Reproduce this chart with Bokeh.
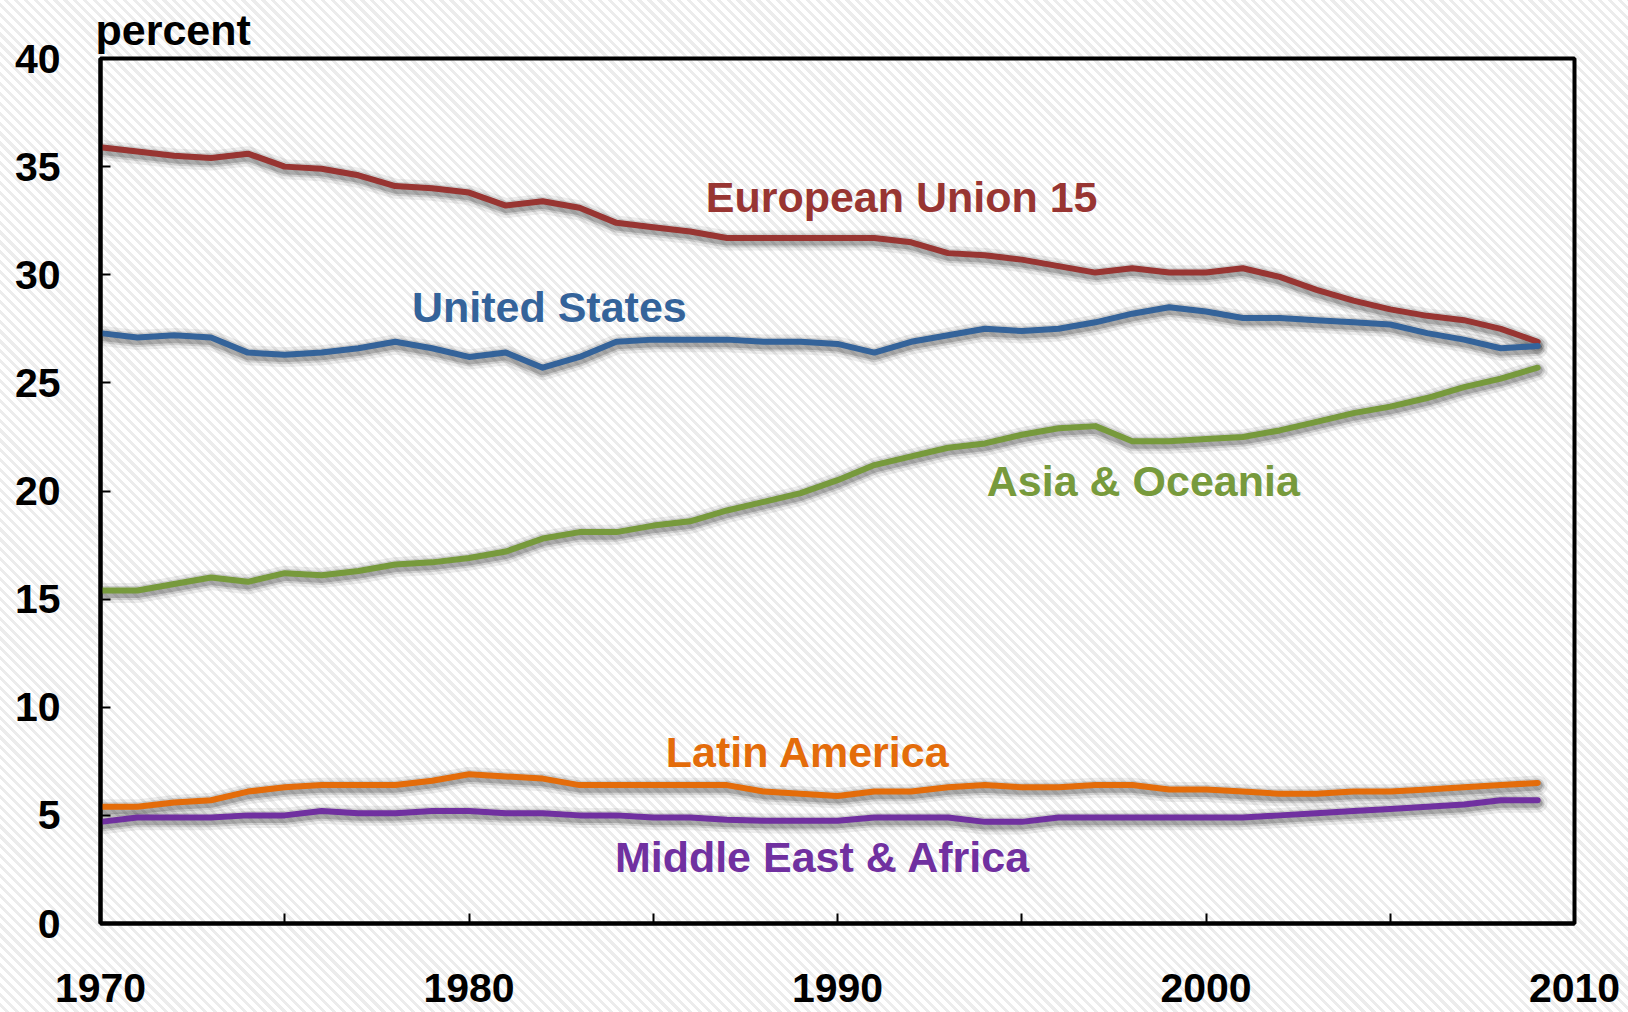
from bokeh.plotting import figure
from bokeh.models import Range1d, FixedTicker, Label
from bokeh.embed import file_html
from bokeh.resources import INLINE

years = list(range(1970, 2010))

eu15 = [35.9, 35.7, 35.5, 35.4, 35.6, 35.0, 34.9, 34.6, 34.1, 34.0,
        33.8, 33.2, 33.4, 33.1, 32.4, 32.2, 32.0, 31.7, 31.7, 31.7,
        31.7, 31.7, 31.5, 31.0, 30.9, 30.7, 30.4, 30.1, 30.3, 30.1,
        30.1, 30.3, 29.9, 29.3, 28.8, 28.4, 28.1, 27.9, 27.5, 26.9]
usa = [27.3, 27.1, 27.2, 27.1, 26.4, 26.3, 26.4, 26.6, 26.9, 26.6,
       26.2, 26.4, 25.7, 26.2, 26.9, 27.0, 27.0, 27.0, 26.9, 26.9,
       26.8, 26.4, 26.9, 27.2, 27.5, 27.4, 27.5, 27.8, 28.2, 28.5,
       28.3, 28.0, 28.0, 27.9, 27.8, 27.7, 27.3, 27.0, 26.6, 26.7]
asia = [15.4, 15.4, 15.7, 16.0, 15.8, 16.2, 16.1, 16.3, 16.6, 16.7,
        16.9, 17.2, 17.8, 18.1, 18.1, 18.4, 18.6, 19.1, 19.5, 19.9,
        20.5, 21.2, 21.6, 22.0, 22.2, 22.6, 22.9, 23.0, 22.3, 22.3,
        22.4, 22.5, 22.8, 23.2, 23.6, 23.9, 24.3, 24.8, 25.2, 25.7]
latam = [5.4, 5.4, 5.6, 5.7, 6.1, 6.3, 6.4, 6.4, 6.4, 6.6,
         6.9, 6.8, 6.7, 6.4, 6.4, 6.4, 6.4, 6.4, 6.1, 6.0,
         5.9, 6.1, 6.1, 6.3, 6.4, 6.3, 6.3, 6.4, 6.4, 6.2,
         6.2, 6.1, 6.0, 6.0, 6.1, 6.1, 6.2, 6.3, 6.4, 6.5]
mea = [4.7, 4.9, 4.9, 4.9, 5.0, 5.0, 5.2, 5.1, 5.1, 5.2,
       5.2, 5.1, 5.1, 5.0, 5.0, 4.9, 4.9, 4.8, 4.75, 4.75,
       4.75, 4.9, 4.9, 4.9, 4.7, 4.7, 4.9, 4.9, 4.9, 4.9,
       4.9, 4.9, 5.0, 5.1, 5.2, 5.3, 5.4, 5.5, 5.7, 5.7]

series_names = ["European Union 15", "United States", "Asia & Oceania",
                "Latin America", "Middle East & Africa"]
series_values = [eu15, usa, asia, latam, mea]
series_colors = ["#983532", "#34639a", "#779a3c", "#e46c0a", "#7030a0"]
# label anchor points (data coordinates: year, percent)
label_x = [1991.74, 1982.18, 1998.30, 1989.2, 1989.6]
label_y = [33.61, 28.52, 20.48, 7.91, 3.09]

x_ticks = [1970, 1975, 1980, 1985, 1990, 1995, 2000, 2005, 2010]
x_tick_labels = ["1970", "", "1980", "", "1990", "", "2000", "", "2010"]
y_ticks = [0, 5, 10, 15, 20, 25, 30, 35, 40]

FONT = "Liberation Sans"

p = figure(width=1628, height=1012, output_backend="svg", toolbar_location=None,
           x_range=Range1d(1970, 2010), y_range=Range1d(0, 40),
           min_border_left=100, min_border_right=54, min_border_top=58,
           min_border_bottom=89, background_fill_color=None,
           border_fill_color=None, title="percent")
p.styles = {"background": "repeating-linear-gradient(45deg, #ffffff 0px, #ffffff 4px, #ececec 4px, #ececec 7px)"}

p.title.align = "left"
p.title.vertical_align = "top"
p.title.offset = -5
p.title.standoff = 6
p.title.text_font = FONT
p.title.text_font_size = "43px"
p.title.text_font_style = "bold"
p.title.text_color = "black"

p.outline_line_color = "black"
p.outline_line_width = 4
p.grid.grid_line_color = None

p.xaxis.ticker = FixedTicker(ticks=x_ticks)
p.xaxis.major_label_overrides = {t: l for t, l in zip(x_ticks, x_tick_labels)}
p.yaxis.ticker = FixedTicker(ticks=y_ticks)
for ax in (p.xaxis, p.yaxis):
    ax.axis_line_width = 4
    ax.axis_line_color = "black"
    ax.major_tick_line_width = 2
    ax.major_tick_line_color = "black"
    ax.major_tick_in = 10
    ax.major_tick_out = 0
    ax.minor_tick_line_color = None
    ax.major_label_text_font = FONT
    ax.major_label_text_font_size = "41px"
    ax.major_label_text_font_style = "bold"
    ax.major_label_text_color = "black"
p.xaxis.major_label_standoff = 50
p.yaxis.major_label_standoff = 40

# soft shadows drawn on a slightly shifted range
p.extra_y_ranges = {"sh": Range1d(0.12, 40.12)}
for vals in series_values:
    for w, a in ((20, 0.07), (14, 0.12), (10, 0.18)):
        p.line(years, vals, line_width=w, color="black", alpha=a,
               y_range_name="sh", line_join="round", line_cap="round")

for vals, c in zip(series_values, series_colors):
    p.line(years, vals, line_width=6, color=c, line_join="round", line_cap="round")

for name, c, lx, ly in zip(series_names, series_colors, label_x, label_y):
    p.add_layout(Label(x=lx, y=ly, text=name, text_align="center",
                       text_baseline="alphabetic", text_font=FONT,
                       text_font_size="43px", text_font_style="bold",
                       text_color=c))

open("out.html", "w").write(file_html(p, INLINE))
